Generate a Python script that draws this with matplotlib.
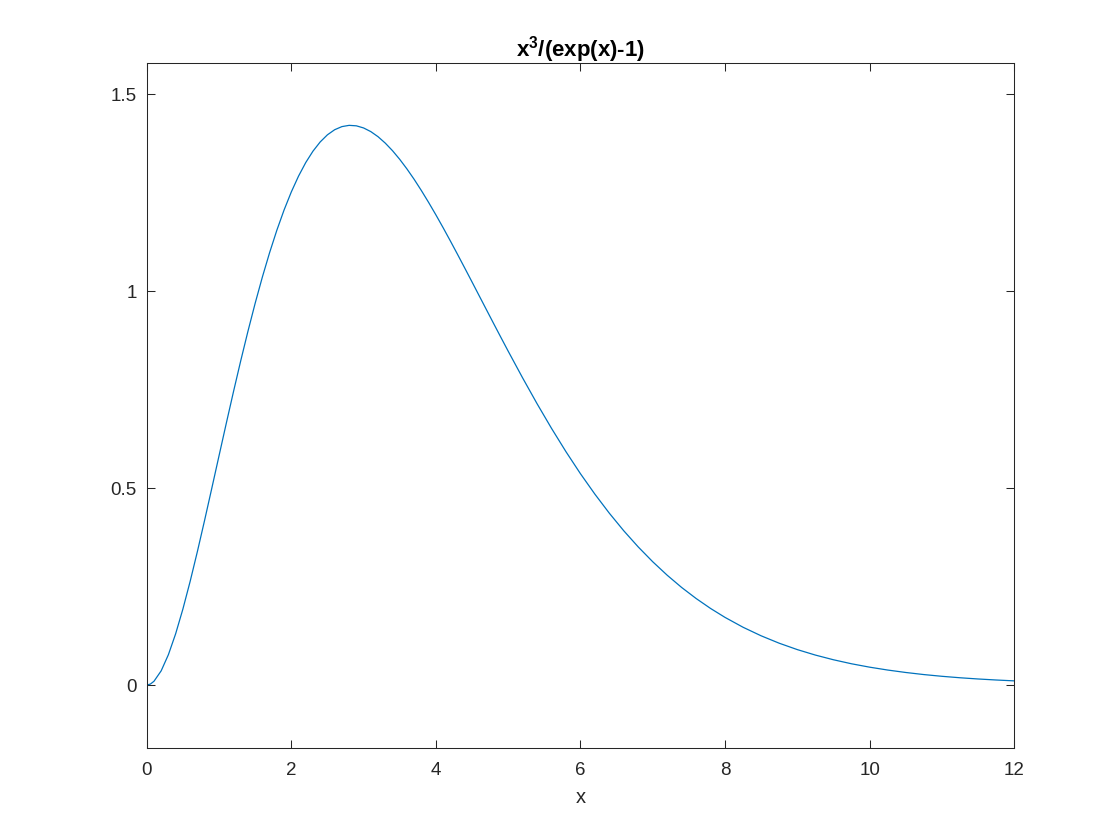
import matplotlib
matplotlib.use("Agg")
import matplotlib.pyplot as plt

# values
x_vals = [0.0, 0.05, 0.1, 0.2, 0.3, 0.4, 0.5, 0.6, 0.7, 0.8, 0.9,
          1.0, 1.1, 1.2, 1.3, 1.4, 1.5, 1.6, 1.7, 1.8, 1.9,
          2.0, 2.1, 2.2, 2.3, 2.4, 2.5, 2.6, 2.7, 2.8, 2.9,
          3.0, 3.1, 3.2, 3.3, 3.4, 3.5, 3.6, 3.7, 3.8, 3.9,
          4.0, 4.1, 4.2, 4.3, 4.4, 4.5, 4.6, 4.7, 4.8, 4.9,
          5.0, 5.2, 5.4, 5.6, 5.8, 6.0, 6.2, 6.4, 6.6, 6.8,
          7.0, 7.2, 7.4, 7.6, 7.8, 8.0, 8.25, 8.5, 8.75, 9.0,
          9.25, 9.5, 9.75, 10.0, 10.25, 10.5, 10.75, 11.0, 11.25, 11.5,
          11.75, 12.0]
y_vals = [0.0, 0.0024, 0.0095, 0.0361, 0.0772, 0.1301, 0.1927, 0.2627, 0.3383, 0.4178, 0.4995,
          0.5820, 0.6641, 0.7448, 0.8231, 0.8981, 0.9694, 1.0362, 1.0981, 1.1549, 1.2063,
          1.2521, 1.2923, 1.3269, 1.3558, 1.3792, 1.3973, 1.4102, 1.4181, 1.4213, 1.4201,
          1.4147, 1.4054, 1.3925, 1.3762, 1.3570, 1.3350, 1.3106, 1.2841, 1.2556, 1.2255,
          1.1941, 1.1615, 1.1279, 1.0936, 1.0588, 1.0237, 0.9883, 0.9530, 0.9177, 0.8827,
          0.8480, 0.7800, 0.7144, 0.6518, 0.5925, 0.5367, 0.4847, 0.4363, 0.3916, 0.3506,
          0.3131, 0.2789, 0.2478, 0.2198, 0.1945, 0.1718, 0.1467, 0.1250, 0.1062, 0.0900,
          0.0761, 0.0642, 0.0540, 0.0454, 0.0381, 0.0319, 0.0266, 0.0222, 0.0185, 0.0154,
          0.0128, 0.0106]

x_ticks = [0, 2, 4, 6, 8, 10, 12]
y_ticks = [0, 0.5, 1, 1.5]
y_tick_labels = ["0", "0.5", "1", "1.5"]

plt.rcParams["font.family"] = ["Liberation Sans", "DejaVu Sans"]
plt.rcParams["mathtext.fontset"] = "custom"
plt.rcParams["mathtext.rm"] = "Liberation Sans:bold"

ink = "#262626"

fig = plt.figure(figsize=(11.2, 8.4), dpi=100)
ax = fig.add_axes([0.131, 0.109, 0.7745, 0.8157])

ax.plot(x_vals, y_vals, color="#0072BD", lw=0.9)

ax.set_xlim(0, 12)
ax.set_ylim(-0.161, 1.579)
ax.set_xticks(x_ticks)
ax.set_yticks(y_ticks)
ax.set_yticklabels(y_tick_labels)

ax.tick_params(direction="in", length=6, width=0.75, colors=ink,
               labelsize=13.5, top=True, right=True)
ax.tick_params(axis="x", pad=10)
ax.tick_params(axis="y", pad=7)
for s in ax.spines.values():
    s.set_linewidth(0.75)
    s.set_color(ink)

ax.set_xlabel("x", fontsize=14.5, color=ink, labelpad=6)
ax.set_title(r"x$^{3}$/(exp(x)-1)", fontsize=16, fontweight="bold",
             color="black", pad=5)

fig.savefig("out.png", dpi=100)
